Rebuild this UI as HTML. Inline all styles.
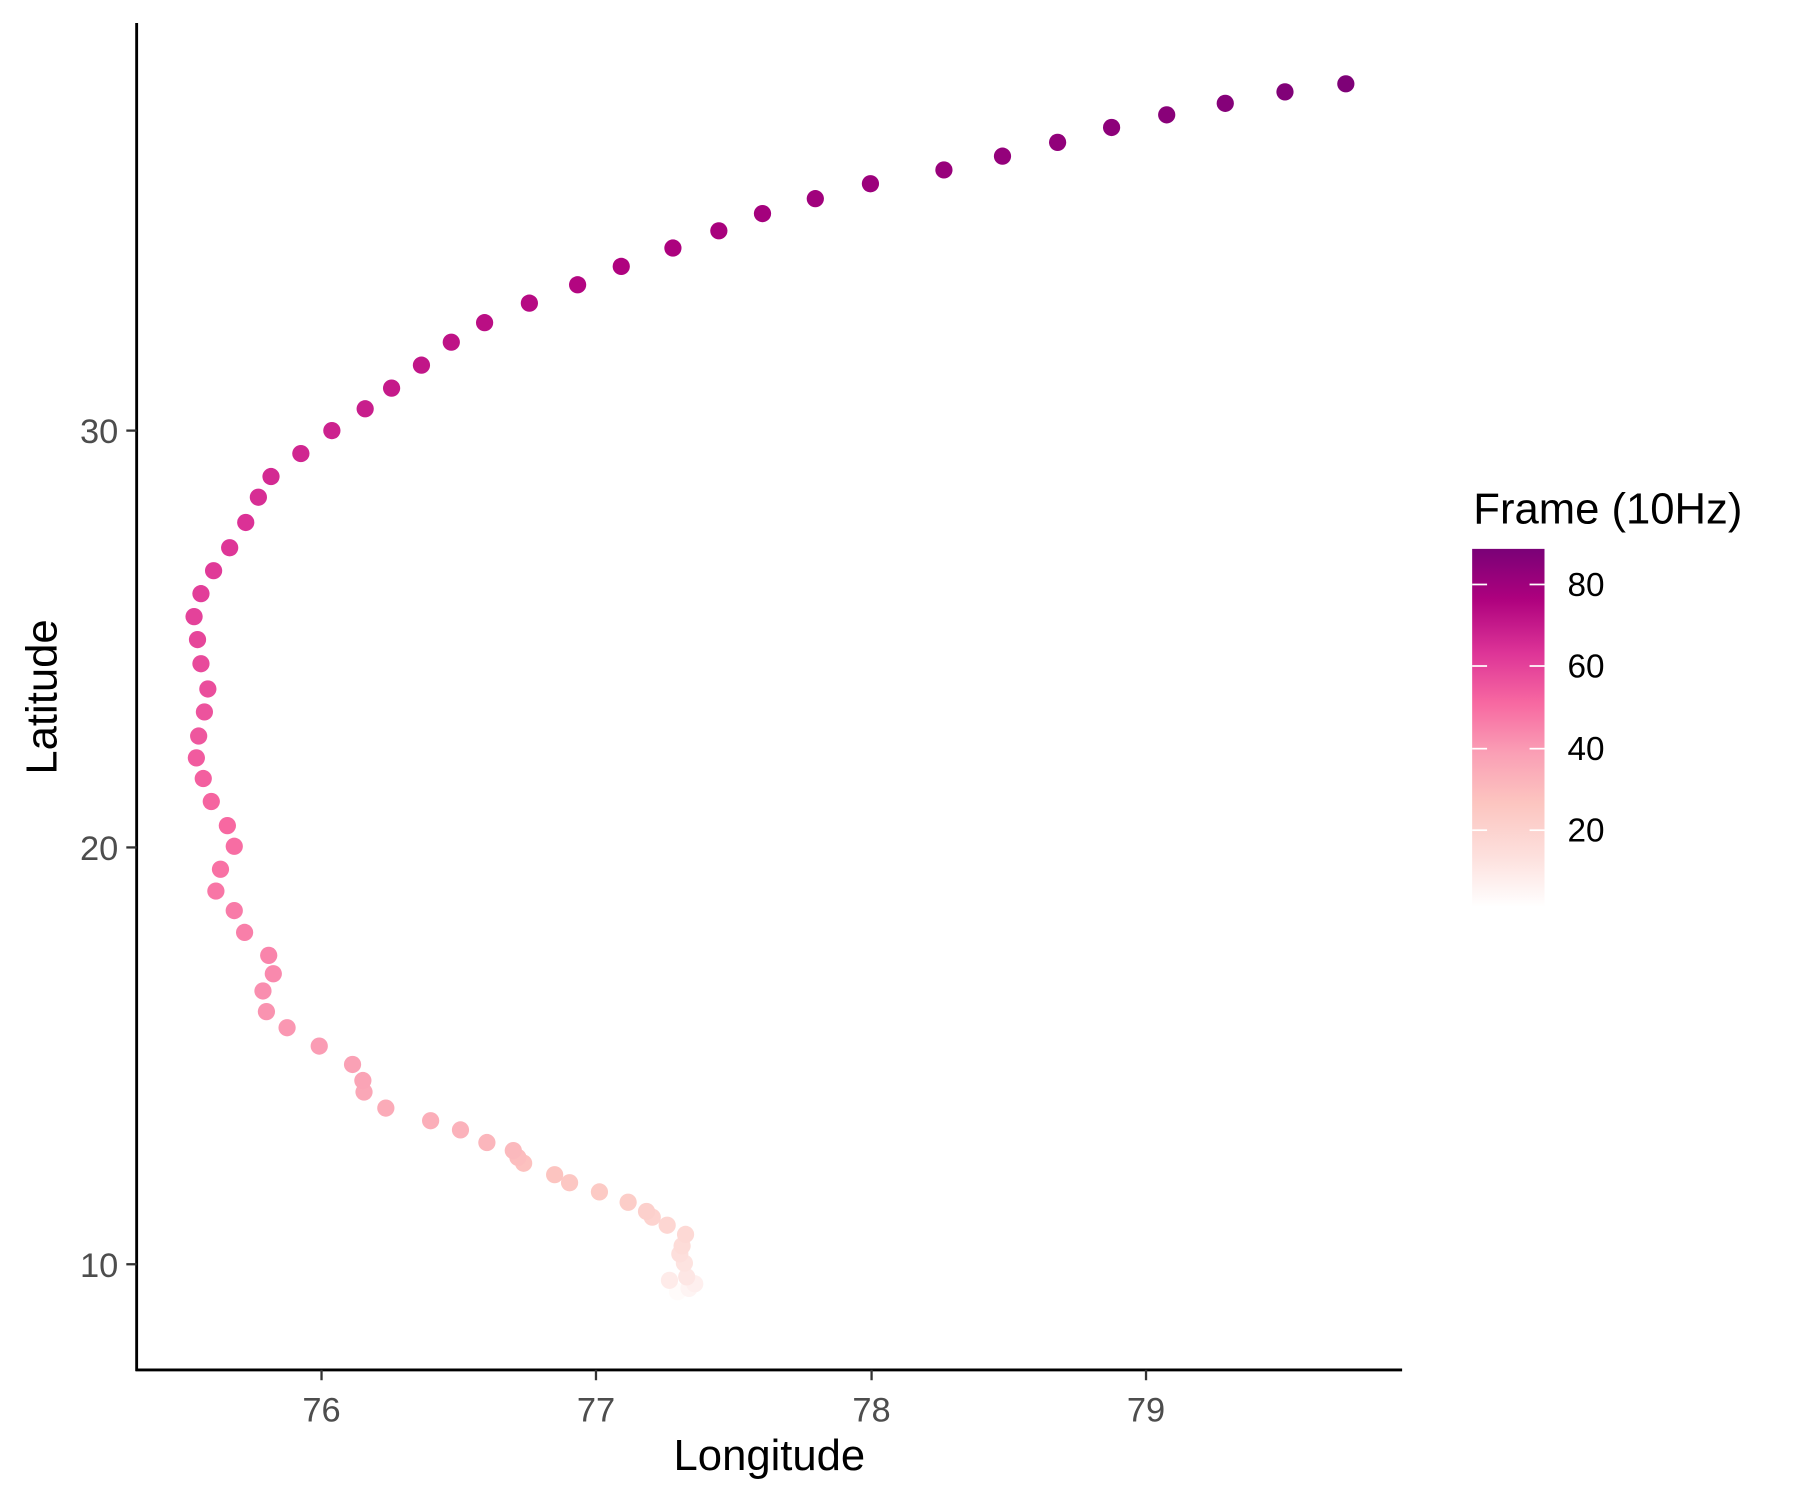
<!DOCTYPE html>
<html><head><meta charset="utf-8"><style>
html,body{margin:0;padding:0;background:#fff}
svg{display:block}
text{font-family:"Liberation Sans",Arial,sans-serif}
</style></head><body>
<svg id="s" width="1800" height="1500" viewBox="0 0 1567.5 1306.3" preserveAspectRatio="none" xmlns="http://www.w3.org/2000/svg">
<defs>
<linearGradient id="g" x1="0" y1="1" x2="0" y2="0">
<stop offset="0" stop-color="#ffffff"/>
<stop offset="0.14" stop-color="#fde0dd"/>
<stop offset="0.29" stop-color="#fcc5c0"/>
<stop offset="0.43" stop-color="#fa9fb5"/>
<stop offset="0.57" stop-color="#f768a1"/>
<stop offset="0.71" stop-color="#dd3497"/>
<stop offset="0.86" stop-color="#ae017e"/>
<stop offset="1" stop-color="#7a0177"/>
</linearGradient>
</defs>
<g id="pts"></g>
<line x1="119" y1="20" x2="119" y2="1194" stroke="#000" stroke-width="2.5"/>
<line x1="118" y1="1193" x2="1221" y2="1193" stroke="#000" stroke-width="2.5"/>
<g stroke="#333" stroke-width="2">
<line x1="110" y1="375" x2="119" y2="375"/><line x1="110" y1="738" x2="119" y2="738"/><line x1="110" y1="1101" x2="119" y2="1101"/>
<line x1="280" y1="1193" x2="280" y2="1202"/><line x1="519" y1="1193" x2="519" y2="1202"/><line x1="759" y1="1193" x2="759" y2="1202"/><line x1="998" y1="1193" x2="998" y2="1202"/>
</g>
<g font-size="30" fill="#4d4d4d" text-anchor="end">
<text x="103" y="386">30</text><text x="103" y="749">20</text><text x="103" y="1112">10</text>
</g>
<g font-size="30" fill="#4d4d4d" text-anchor="middle">
<text x="280" y="1238">76</text><text x="519" y="1238">77</text><text x="759" y="1238">78</text><text x="998" y="1238">79</text>
</g>
<text x="670" y="1280" font-size="38" text-anchor="middle">Longitude</text>
<text transform="translate(49,607) rotate(-90)" font-size="38" text-anchor="middle">Latitude</text>
<text x="1283" y="456" font-size="38">Frame (10Hz)</text>
<rect x="1282" y="478" width="63" height="312" fill="url(#g)"/>
<g stroke="#fff" stroke-width="1.5">
<line x1="1282" y1="509" x2="1295" y2="509"/><line x1="1332" y1="509" x2="1345" y2="509"/>
<line x1="1282" y1="580" x2="1295" y2="580"/><line x1="1332" y1="580" x2="1345" y2="580"/>
<line x1="1282" y1="652" x2="1295" y2="652"/><line x1="1332" y1="652" x2="1345" y2="652"/>
<line x1="1282" y1="723" x2="1295" y2="723"/><line x1="1332" y1="723" x2="1345" y2="723"/>
</g>
<g font-size="29" fill="#000">
<text x="1365" y="519">80</text><text x="1365" y="590">60</text><text x="1365" y="662">40</text><text x="1365" y="733">20</text>
</g>
</svg>
<script>
var P=[[590,1125],[600,1122],[605,1118],[583,1115],[598,1112],[596,1100],[592,1092],[594,1085],[597,1075],[581,1067],[568,1060],[563,1055],[547,1047],[522,1038],[496,1030],[483,1023],[456,1013],[451,1008],[447,1002],[424,995],[401,984],[375,976],[336,965],[317,951],[316,941],[307,927],[278,911],[250,895],[232,881],[229,863],[238,848],[234,832],[213,812],[204,793],[188,776],[192,757],[204,737],[198,719],[184,698],[177,678],[171,660],[173,641],[178,620],[181,600],[175,578],[172,557],[169,537],[175,517],[186,497],[200,477],[214,455],[225,433],[236,415],[262,395],[289,375],[318,356],[341,338],[367,318],[393,298],[422,281],[461,264],[503,248],[541,232],[586,216],[626,201],[664,186],[710,173],[758,160],[822,148],[873,136],[921,124],[968,111],[1016,100],[1067,90],[1119,80],[1172,73]];
var C=["#ffffff","#fde0dd","#fcc5c0","#fa9fb5","#f768a1","#dd3497","#ae017e","#7a0177"];
function h(c){return [parseInt(c.substr(1,2),16),parseInt(c.substr(3,2),16),parseInt(c.substr(5,2),16)];}
function col(t){var x=t*7,i=Math.min(6,Math.floor(x)),f=x-i,a=h(C[i]),b=h(C[i+1]);return "rgb("+a.map(function(v,k){return Math.round(v+(b[k]-v)*f)}).join(",")+")";}
var g=document.getElementById("pts"),s="",n=P.length;
for(var i=0;i<n;i++){var t=i/(n-1);t=Math.pow(t,0.8)*0.97+0.02;s+='<circle cx="'+P[i][0]+'" cy="'+P[i][1]+'" r="7.5" fill="'+col(Math.min(1,t))+'"/>';}
g.innerHTML=s;
</script>
</body></html>
